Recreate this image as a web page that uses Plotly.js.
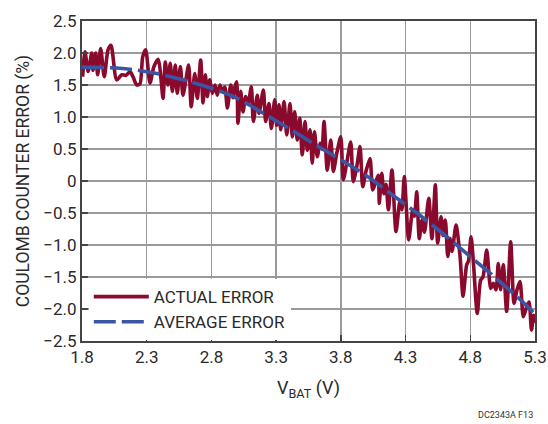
<!DOCTYPE html>
<html>
<head>
<meta charset="utf-8">
<script src="https://cdn.plot.ly/plotly-3.0.1.min.js"></script>
<style>html,body{margin:0;padding:0;background:#fff;}#chart{width:548px;height:424px;}</style>
</head>
<body>
<div id="chart"></div>
<script>
// Actual error (%) vs VBAT (V)
var actualX = [1.805,1.823,1.847,1.875,1.885,1.906,1.921,1.944,1.972,2.001,2.024,2.068,2.107,2.140,2.171,2.194,2.223,2.248,2.269,2.292,2.325,2.356,2.390,
2.410,2.426,2.444,2.464,2.482,2.498,2.521,2.536,2.560,2.580,2.604,2.624,2.644,2.671,2.691,2.717,2.735,2.753,2.768,2.787,2.807,2.828,2.845,2.866,2.882,2.903,2.923,2.949,2.967,2.978,
2.995,3.005,3.026,3.044,3.065,3.083,3.108,3.124,3.154,3.168,3.201,3.219,3.245,3.263,3.289,3.304,3.322,3.335,3.361,3.382,3.407,3.425,3.443,3.463,3.482,3.502,3.523,3.541,3.562,
3.579,3.596,3.618,3.639,3.654,3.670,3.695,3.722,3.742,3.770,3.799,3.819,3.847,3.876,3.896,3.925,3.948,3.969,3.994,4.025,4.046,4.072,4.089,4.097,4.116,4.133,4.149,4.167,
4.195,4.226,4.257,4.272,4.290,4.324,4.355,4.369,4.386,4.406,4.427,4.446,4.479,4.504,4.530,4.548,4.574,4.589,4.607,4.626,4.643,4.659,4.690,4.721,4.744,
4.772,4.786,4.806,4.825,4.854,4.880,4.898,4.927,4.958,4.978,4.999,5.016,5.034,5.055,5.081,5.112,5.138,5.161,5.184,5.210,5.238,5.254,5.273,5.289,5.300];
var actualY = [1.63,2.02,1.71,2.00,1.73,2.00,1.66,2.07,1.63,2.05,2.12,1.58,1.66,1.65,1.71,1.63,1.50,1.52,1.94,2.05,1.53,1.79,1.90,
1.60,1.29,1.86,1.50,1.84,1.40,1.81,1.37,1.79,1.34,1.60,1.81,1.16,1.68,1.29,1.89,1.22,1.66,1.32,1.58,1.37,1.50,1.34,1.50,1.40,1.47,1.14,1.50,1.30,1.45,
1.55,0.90,1.40,1.08,1.32,1.20,1.47,0.93,1.34,1.06,1.42,0.93,1.21,0.82,1.27,0.87,1.19,0.80,1.24,0.72,1.21,0.69,1.08,0.64,0.98,0.41,0.93,0.48,0.80,
0.28,0.77,0.38,0.59,0.50,0.93,0.17,0.64,0.15,0.45,0.69,0.02,0.30,0.61,-0.01,0.25,0.54,-0.09,0.15,0.35,-0.14,0.00,0.09,-0.35,0.12,-0.20,-0.05,-0.45,
0.17,-0.79,-0.30,-0.45,0.07,-0.92,-0.45,-0.55,-0.17,-0.90,-0.61,-0.80,-0.27,-0.90,-0.06,-0.97,-0.56,-0.85,-0.61,-1.18,-0.90,-1.10,-0.69,-1.18,-1.80,
-1.31,-1.25,-0.87,-1.30,-2.07,-1.55,-1.50,-1.08,-1.68,-1.60,-1.70,-1.29,-1.70,-1.31,-2.04,-0.95,-1.91,-1.70,-1.57,-2.12,-1.95,-1.89,-2.33,-2.10,-2.22];

// Average error (%) vs VBAT (V)
var avgX = [1.8,2.0,2.2,2.4,2.6,2.8,3.0,3.2,3.4,3.6,3.8,4.0,4.2,4.4,4.6,4.8,5.0,5.2,5.3];
var avgY = [1.78,1.77,1.74,1.67,1.57,1.45,1.29,1.06,0.82,0.57,0.33,0.08,-0.22,-0.52,-0.84,-1.18,-1.52,-1.88,-2.08];

var seriesNames = ["ACTUAL ERROR","AVERAGE ERROR"];
var xTickVals = [1.8,2.3,2.8,3.3,3.8,4.3,4.8,5.3];
var xTickText = ["1.8","2.3","2.8","3.3","3.8","4.3","4.8","5.3"];
var yTickVals = [2.5,2.0,1.5,1.0,0.5,0,-0.5,-1.0,-1.5,-2.0,-2.5];
var yTickText = ["2.5","2.0","1.5","1.0","0.5","0","\u22120.5","\u22121.0","\u22121.5","\u22122.0","\u22122.5"];

var FONT = "Roboto, 'Liberation Sans', sans-serif";

var traces = [
  {x: actualX, y: actualY, mode: "lines", name: seriesNames[0],
   line: {color: "#8a0a2e", width: 3.6, shape: "spline", smoothing: 0.7}},
  {x: avgX, y: avgY, mode: "lines", name: seriesNames[1],
   line: {color: "#3a55a4", width: 3.6, dash: "22px,6px", shape: "spline"}}
];

var axisCommon = {
  showgrid: true, gridcolor: "#9a9a9a", gridwidth: 1.5,
  showline: true, linecolor: "#444", linewidth: 2, mirror: true,
  ticks: "inside", ticklen: 6, tickcolor: "#444", tickwidth: 1.5,
  zeroline: false,
  tickfont: {family: FONT, size: 17, color: "#2a2a2a"}
};

var layout = {
  width: 548, height: 424,
  margin: {l: 82, r: 13, t: 21, b: 83},
  paper_bgcolor: "#fff", plot_bgcolor: "#fff",
  showlegend: true,
  legend: {x: 0.015, y: 0.003, xanchor: "left", yanchor: "bottom", bgcolor: "#fff",
           itemwidth: 55,
           font: {family: FONT, size: 17, color: "#2a2a2a"}, tracegroupgap: 0},
  xaxis: Object.assign({}, axisCommon, {
    range: [1.8, 5.3], tickmode: "array", tickvals: xTickVals, ticktext: xTickText,
    title: {text: "V<sub>BAT</sub> (V)", font: {family: FONT, size: 18, color: "#2a2a2a"}, standoff: 15}
  }),
  yaxis: Object.assign({}, axisCommon, {
    range: [-2.5, 2.5], tickmode: "array", tickvals: yTickVals, ticktext: yTickText,
    title: {text: "COULOMB COUNTER ERROR (%)", font: {family: FONT, size: 17.5, color: "#2a2a2a"}, standoff: 9}
  }),
  annotations: [
    {text: "DC2343A F13", xref: "paper", yref: "paper", x: 1.0, y: -0.252, xanchor: "right", yanchor: "bottom",
     showarrow: false, font: {family: FONT, size: 9, color: "#333"}}
  ]
};

Plotly.newPlot("chart", traces, layout, {displayModeBar: false, staticPlot: true});
</script>
</body>
</html>
